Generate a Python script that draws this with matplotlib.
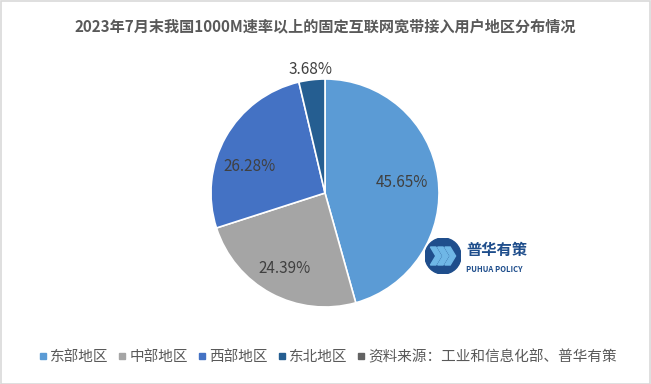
import matplotlib
matplotlib.use("Agg")
import matplotlib.pyplot as plt
from matplotlib.patches import Circle, Rectangle, Polygon
from matplotlib.lines import Line2D
import numpy as np

plt.rcParams['font.family'] = ['Noto Sans CJK SC', 'DejaVu Sans']

title = "2023年7月末我国1000M速率以上的固定互联网宽带接入用户地区分布情况"
categories = ["东部地区", "中部地区", "西部地区", "东北地区"]
values = [45.65, 24.39, 26.28, 3.68]
colors = ["#5B9BD5", "#A5A5A5", "#4472C4", "#255E91"]
source_label = "资料来源：工业和信息化部、普华有策"
source_color = "#636363"

W, H = 651, 384
fig = plt.figure(figsize=(W / 100, H / 100), dpi=100)
fig.patch.set_facecolor("white")

# frame
fig.add_artist(Rectangle((0.5 / W, 0.5 / H), 1 - 1.5 / W, 1 - 1.5 / H, transform=fig.transFigure,
                         fill=False, edgecolor="#D9D9D9", linewidth=1.2))

cx, cy, r = 325, 384 - 193, 114
ax = fig.add_axes([(cx - r) / W, (cy - r) / H, 2 * r / W, 2 * r / H])
wedges, texts, autotexts = ax.pie(values, colors=colors, startangle=90, counterclock=False,
                                  autopct="%.2f%%", pctdistance=0.74,
                                  wedgeprops=dict(edgecolor="white", linewidth=1.2),
                                  textprops=dict(fontsize=11, color="#404040"))
# label radial distances (last one outside the pie)
label_dist = [0.68, 0.75, 0.70, 1.09]
label_rot = [0, 0, -10, 0]  # small angular nudges in degrees
for t, ld, rot in zip(autotexts, label_dist, label_rot):
    x, y = t.get_position()
    a = np.arctan2(y, x) - np.deg2rad(rot)
    t.set_position((np.cos(a) * ld, np.sin(a) * ld))
ax.set_aspect("equal")
ax.set_xlim(-1, 1)
ax.set_ylim(-1, 1)
ax.axis("off")

fig.text(0.5, 1 - 26 / H, title, ha="center", va="center", fontsize=10.9,
         fontweight="bold", color="#595959")

# legend
handles = [Line2D([], [], marker="s", linestyle="none", markersize=4.5, color=c) for c in colors]
handles.append(Line2D([], [], marker="s", linestyle="none", markersize=4.5, color=source_color))
labels = categories + [source_label]
fig.legend(handles, labels, loc="center", bbox_to_anchor=(328 / W, 1 - 357 / H), ncol=5,
           frameon=False, fontsize=10.5, handlelength=0.5, handletextpad=0.25, columnspacing=0.7,
           labelcolor="#595959")

# logo
lx, ly = 443, 384 - 256
lax = fig.add_axes([(lx - 18) / W, (ly - 18) / H, 36 / W, 36 / H])
lax.set_xlim(-1, 1); lax.set_ylim(-1, 1); lax.set_aspect("equal"); lax.axis("off")
lax.add_patch(Circle((0, 0), 1, color="#1F4E8C"))
for dx in (-0.45, -0.05, 0.35):
    lax.add_patch(Polygon([(dx - 0.25, 0.5), (dx + 0.05, 0.5), (dx + 0.35, 0.0), (dx + 0.05, -0.5),
                           (dx - 0.25, -0.5), (dx + 0.05, 0.0)], closed=True, color="#6FB7E6"))
fig.text(466 / W, 1 - 250 / H, "普华有策", fontsize=11, fontweight="bold", color="#1F4E8C",
         ha="left", va="center")
fig.text(466 / W, 1 - 270 / H, "PUHUA POLICY", fontsize=5.5, fontweight="bold", color="#1F4E8C",
         ha="left", va="center")

fig.savefig("out.png", dpi=100, facecolor="white")
